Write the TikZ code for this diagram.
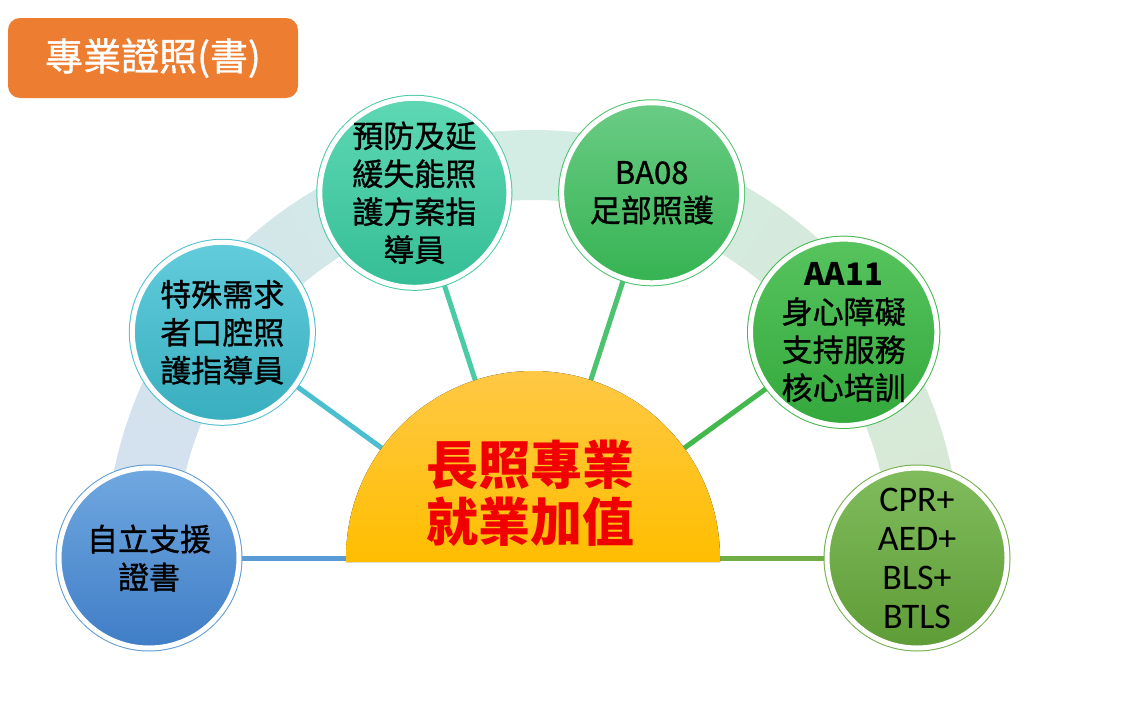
\documentclass[tikz,border=0pt]{standalone}
\usepackage{fontspec}
\setmainfont{Noto Sans CJK TC}
\newfontfamily\cjkthick{Noto Sans CJK TC}[FakeBold=1]
\newfontfamily\latinfont{Carlito}
\usetikzlibrary{calc}
\pgfdeclarelayer{back}
\pgfdeclarelayer{mid}
\pgfsetlayers{back,mid,main}

\definecolor{titleorange}{HTML}{ED7D31}
\definecolor{sunTop}{HTML}{FFC845}
\definecolor{sunBot}{HTML}{FFBE00}
\definecolor{sunText}{HTML}{F00000}
\definecolor{bandL}{HTML}{D4DFF0}
\definecolor{bandM}{HTML}{D3ECE4}
\definecolor{bandR}{HTML}{D8E8D4}
% ring / top / bottom colours of the six bubbles
\definecolor{cA}{HTML}{5B9BD5}\definecolor{cAtop}{HTML}{70A8E0}\definecolor{cAbot}{HTML}{3F7DC6}
\definecolor{cB}{HTML}{4BBFD0}\definecolor{cBtop}{HTML}{62CCDC}\definecolor{cBbot}{HTML}{38AEBE}
\definecolor{cC}{HTML}{4ACBA5}\definecolor{cCtop}{HTML}{5ED8B4}\definecolor{cCbot}{HTML}{35BE96}
\definecolor{cD}{HTML}{4CC36E}\definecolor{cDtop}{HTML}{6ACC85}\definecolor{cDbot}{HTML}{36B352}
\definecolor{cE}{HTML}{43B84C}\definecolor{cEtop}{HTML}{57C45E}\definecolor{cEbot}{HTML}{33A83C}
\definecolor{cF}{HTML}{70AD47}\definecolor{cFtop}{HTML}{80BC5C}\definecolor{cFbot}{HTML}{5E9C37}

\begin{document}
\begin{tikzpicture}[x=0.5pt, y=0.5pt,
    bubble/.style={circle, minimum size=90pt, inner sep=0pt, align=center,
        top color=#1top, bottom color=#1bot, draw=white, line width=2.5pt,
        preaction={draw=#1, line width=3.5pt},
        font=\cjkthick\fontsize{15.5}{19}\selectfont},
    spoke/.style={draw=#1, line width=2.5pt}]
    \useasboundingbox (0,0) rectangle (1134,720);
    \coordinate (hub) at (533,162);

    % faint band behind the bubbles
    \begin{pgfonlayer}{back}
    \foreach \i in {0,...,35}{
        \ifnum\i<18
            \pgfmathsetmacro\p{100*\i/17}
            \colorlet{bandnow}{bandM!\p!bandL}
        \else
            \pgfmathsetmacro\p{100*(\i-18)/17}
            \colorlet{bandnow}{bandR!\p!bandM}
        \fi
        \fill[bandnow] ([shift={(180-5*\i:358)}]hub) arc[start angle=180-5*\i, delta angle=-5.3, radius=358]
            -- ([shift={(174.7-5*\i:428)}]hub) arc[start angle=174.7-5*\i, delta angle=5.3, radius=428] -- cycle;
    }
    \end{pgfonlayer}

    % half sun, a little lower than the hub so the flat spokes stay hidden
    \fill[top color=sunTop, bottom color=sunBot] ([shift={(-187,-4)}]hub) -- ++(0,4)
        arc[start angle=180, end angle=0, radius=187] -- ++(0,-4) -- cycle;
    \node[text=sunText, align=center, font=\fontsize{26}{28.5}\selectfont\bfseries] (sun) at ([shift={(-3,65)}]hub) {長照專業\\就業加值};

    \node[bubble=cA] (c1) at ([shift={(180:384)}]hub) {自立支援\\證書};
    \node[bubble=cB] (c2) at ([shift={(144:384)}]hub) {特殊需求\\者口腔照\\護指導員};
    \node[bubble=cC] (c3) at ([shift={(108:384)}]hub) {預防及延\\緩失能照\\護方案指\\導員};
    \node[bubble=cD] (c4) at ([shift={(72:384)}]hub) {BA08\\足部照護};
    \node[bubble=cE] (c5) at ([shift={(36:384)}]hub) {{\normalfont\bfseries AA11}\\身心障礙\\支持服務\\核心培訓};
    \node[bubble=cF, font=\latinfont\fontsize{18}{19.5}\selectfont] (c6) at ([shift={(0:384)}]hub) {CPR+\\AED+\\BLS+\\BTLS};

    \begin{pgfonlayer}{mid}
    \draw[spoke=cA] (hub) -- (c1);
    \draw[spoke=cB] (hub) -- (c2);
    \draw[spoke=cC] (hub) -- (c3);
    \draw[spoke=cD] (hub) -- (c4);
    \draw[spoke=cE] (hub) -- (c5);
    \draw[spoke=cF] (hub) -- (c6);
    \end{pgfonlayer}

    \node[rectangle, rounded corners=6pt, fill=titleorange, minimum width=145pt, minimum height=40pt,
        text=white, font=\cjkthick\fontsize{19}{22}\selectfont] (title) at (153,662) {專業證照(書)};
\end{tikzpicture}
\end{document}
